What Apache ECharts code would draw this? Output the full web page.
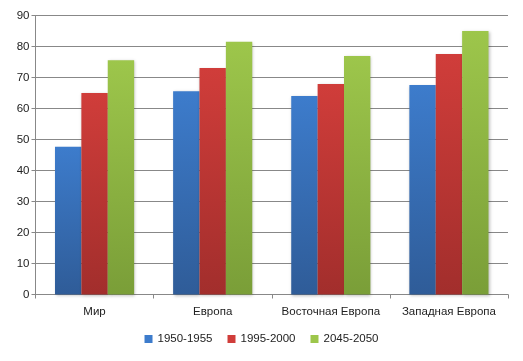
<!DOCTYPE html>
<html><head><meta charset="utf-8">
<script src="https://cdn.jsdelivr.net/npm/echarts@6/dist/echarts.min.js"></script>
<style>html,body{margin:0;padding:0;background:#fff}#c{width:523px;height:361px}</style>
</head><body><div id="c"></div>
<script>
const categories = ['Мир', 'Европа', 'Восточная Европа', 'Западная Европа'];
const seriesNames = ['1950-1955', '1995-2000', '2045-2050'];
const values1950 = [47.7, 65.6, 64.0, 67.6];
const values1995 = [65.0, 73.1, 67.9, 77.6];
const values2045 = [75.6, 81.5, 76.9, 85.0];
const yTicks = [0, 10, 20, 30, 40, 50, 60, 70, 80, 90];

const colors = [['#3d7ccc', '#2f5c98'], ['#d03d3a', '#a22e2c'], ['#9dc64b', '#7a9e38']];
const font = 'Liberation Sans, Arial, sans-serif';
function grad(c){ return new echarts.graphic.LinearGradient(0,0,0,1,[{offset:0,color:c[0]},{offset:1,color:c[1]}]); }
const data = [values1950, values1995, values2045];
const chart = echarts.init(document.getElementById('c'), null, {renderer:'canvas'});
chart.setOption({
  animation: false,
  grid: {left: 35.5, right: 15, top: 15.5, bottom: 66.5, containLabel: false},
  legend: {
    bottom: 11, left: 'center', itemWidth: 8, itemHeight: 8, itemGap: 15,
    icon: 'rect',
    textStyle: {fontFamily: font, fontSize: 11.5, color: '#222'},
    data: seriesNames.map((n,i)=>({name:n, itemStyle:{color:colors[i][0]}}))
  },
  xAxis: {
    type: 'category', data: categories,
    axisLine: {lineStyle: {color: '#888'}},
    axisTick: {show: true, length: 4, lineStyle:{color:'#888'}},
    axisLabel: {fontFamily: font, fontSize: 11.5, color: '#222', margin: 11, interval: 0}
  },
  yAxis: {
    type: 'value', min: yTicks[0], max: yTicks[yTicks.length-1], interval: 10,
    axisLine: {show: true, lineStyle: {color: '#888'}},
    axisTick: {show: true, length: 4, lineStyle:{color:'#888'}},
    axisLabel: {fontFamily: font, fontSize: 11.5, color: '#222', margin: 6},
    splitLine: {lineStyle: {color: '#888'}}
  },
  series: seriesNames.map((n,i)=>({
    name: n, type: 'bar', data: data[i],
    barGap: '0%', barCategoryGap: '33%',
    itemStyle: {color: grad(colors[i]), shadowColor:'rgba(0,0,0,0.25)', shadowBlur:3, shadowOffsetX:1, shadowOffsetY:1}
  }))
});
</script></body></html>
